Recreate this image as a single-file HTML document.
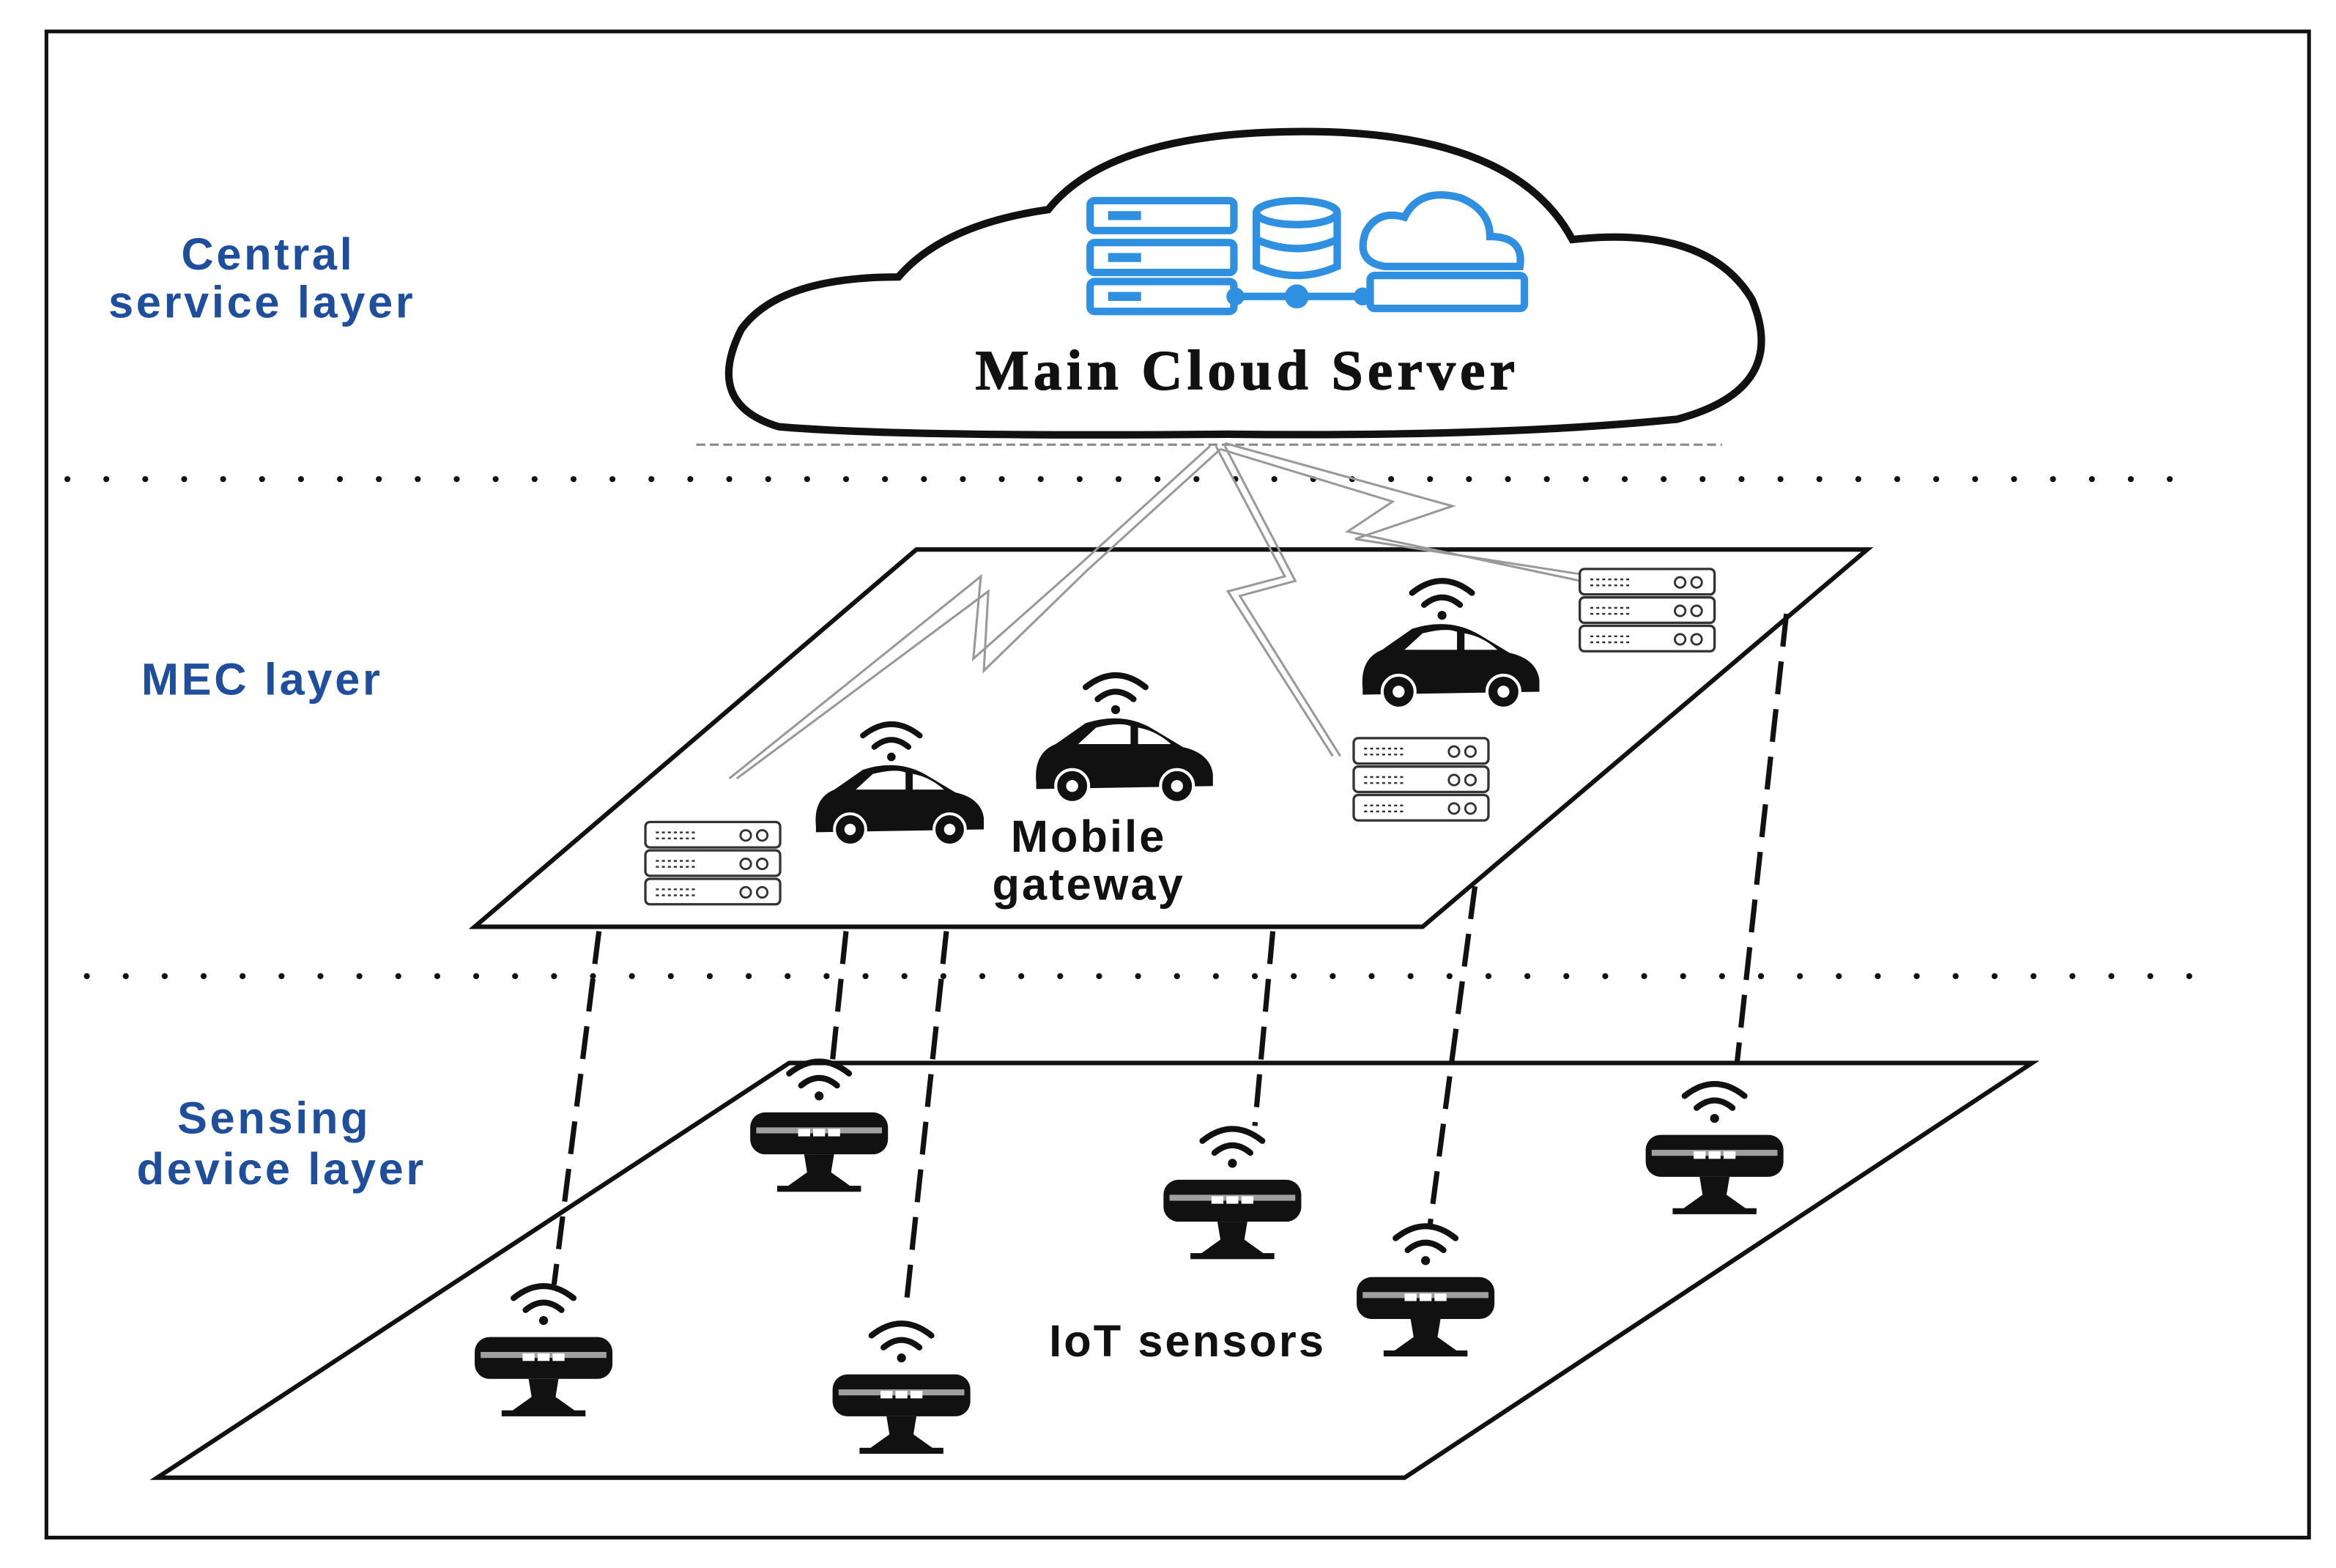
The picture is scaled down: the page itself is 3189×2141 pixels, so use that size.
<!DOCTYPE html>
<html><head><meta charset="utf-8"><style>
html,body{margin:0;padding:0;background:#fff;}
svg{display:block;}
</style></head><body>
<svg width="3189" height="2141" viewBox="0 0 1560 1047.3" xmlns="http://www.w3.org/2000/svg" preserveAspectRatio="none">
<defs>
<g id="srv">
  <g fill="#fff" stroke="#333" stroke-width="1.6">
    <rect x="-45" y="-27" width="90" height="17" rx="3"/>
    <rect x="-45" y="-8" width="90" height="17" rx="3"/>
    <rect x="-45" y="11" width="90" height="17" rx="3"/>
  </g>
  <g stroke="#333" stroke-width="1.2" stroke-dasharray="2 2">
    <line x1="-38" y1="-20" x2="-10" y2="-20"/><line x1="-38" y1="-16" x2="-10" y2="-16"/>
    <line x1="-38" y1="-1" x2="-10" y2="-1"/><line x1="-38" y1="3" x2="-10" y2="3"/>
    <line x1="-38" y1="18" x2="-10" y2="18"/><line x1="-38" y1="22" x2="-10" y2="22"/>
  </g>
  <g fill="none" stroke="#333" stroke-width="1.4">
    <circle cx="22" cy="-18" r="3.5"/><circle cx="33" cy="-18" r="3.5"/>
    <circle cx="22" cy="1" r="3.5"/><circle cx="33" cy="1" r="3.5"/>
    <circle cx="22" cy="20" r="3.5"/><circle cx="33" cy="20" r="3.5"/>
  </g>
</g>
<g id="wifi" fill="none" stroke="#111" stroke-width="4" stroke-linecap="round">
  <path d="M-20,-8 Q0,-24 20,-8"/><path d="M-12,0 Q0,-10 12,0"/><circle cx="0" cy="7" r="3" fill="#111" stroke="none"/>
</g>
<g id="car">
  <use href="#wifi" transform="translate(-5,-38)"/>
  <path d="M-58,18 Q-60,-2 -45,-8 L-25,-22 Q0,-30 20,-18 L40,-6 Q58,-2 60,12 L60,20 L-58,22 Z" fill="#111"/>
  <path d="M-30,-8 L-18,-19 Q-2,-23 5,-20 L5,-8 Z M10,-8 L10,-19 Q22,-17 32,-8 Z" fill="#fff"/>
  <circle cx="-34" cy="20" r="11" fill="#111" stroke="#fff" stroke-width="2"/><circle cx="-34" cy="20" r="4" fill="#fff"/>
  <circle cx="36" cy="20" r="11" fill="#111" stroke="#fff" stroke-width="2"/><circle cx="36" cy="20" r="4" fill="#fff"/>
</g>
<g id="sen">
  <use href="#wifi" transform="translate(0,-30)"/>
  <rect x="-46" y="-12" width="92" height="28" rx="10" fill="#111"/>
  <rect x="-42" y="-2" width="84" height="4" fill="#fff" opacity="0.6"/>
  <rect x="-14" y="-1" width="8" height="5" fill="#fff"/><rect x="-4" y="-1" width="8" height="5" fill="#fff"/><rect x="6" y="-1" width="8" height="5" fill="#fff"/>
  <path d="M-10,16 L10,16 L8,28 L22,38 L-22,38 L-8,28 Z" fill="#111"/>
  <rect x="-28" y="37" width="56" height="4" fill="#111"/>
</g>
</defs>
<rect x="31" y="21" width="1511" height="1006" fill="none" stroke="#111" stroke-width="2.5"/>
<path d="M520,285 Q470,270 495,220 Q520,185 600,185 Q630,150 700,140 Q740,90 860,88 Q1010,85 1050,160 Q1140,150 1170,200 Q1195,260 1120,280 Q1000,292 820,290 Q600,292 520,285 Z" fill="#fff" stroke="#111" stroke-width="5"/>
<g fill="none" stroke="#2f8fe0" stroke-width="5">
  <rect x="728" y="134" width="96" height="20" rx="3"/><rect x="728" y="162" width="96" height="20" rx="3"/><rect x="728" y="188" width="96" height="20" rx="3"/>
  <ellipse cx="866" cy="142" rx="27" ry="8"/><path d="M839,142 V178 Q866,190 893,178 V142 M839,160 Q866,172 893,160"/>
  <path d="M925,178 Q905,175 912,155 Q920,140 938,145 Q948,125 975,132 Q995,140 995,158 Q1018,158 1015,178 Z"/>
  <rect x="915" y="184" width="103" height="22" rx="3"/>
  <path d="M825,198 H915"/>
</g>
<g fill="#2f8fe0"><circle cx="825" cy="198" r="6"/><circle cx="866" cy="198" r="8"/><circle cx="910" cy="198" r="6"/>
<rect x="740" y="141" width="22" height="6"/><rect x="740" y="169" width="22" height="6"/><rect x="740" y="195" width="22" height="6"/></g>
<text x="833" y="260" font-family="Liberation Serif, serif" font-weight="bold" font-size="38" letter-spacing="3" text-anchor="middle" fill="#111" stroke="#111" stroke-width="0.6">Main Cloud Server</text>
<line x1="465" y1="297" x2="1150" y2="297" stroke="#888" stroke-width="1.5" stroke-dasharray="6 3"/>
<line x1="45" y1="320" x2="1462" y2="320" stroke="#111" stroke-width="4" stroke-dasharray="0 26" stroke-linecap="round"/>
<line x1="58" y1="652" x2="1475" y2="652" stroke="#111" stroke-width="4" stroke-dasharray="0 26" stroke-linecap="round"/>
<polygon points="612,367 1247,367 950,619 317,619" fill="#fff" stroke="#111" stroke-width="3"/>
<polygon points="527,710 1357,710 938,987 105,987" fill="#fff" stroke="#111" stroke-width="3"/>
<g fill="none" stroke="#999" stroke-width="1.5">
  <polyline points="808,298 720,378 650,440 655,385 487,520"/>
  <polyline points="815,300 727,380 657,448 660,395 492,520"/>
  <polyline points="812,298 858,385 820,395 890,505"/>
  <polyline points="818,298 865,388 828,398 895,505"/>
  <polyline points="815,300 930,335 900,355 1065,390"/>
  <polyline points="818,296 970,338 905,360 1065,385"/>
</g>
<g stroke="#111" stroke-width="3.5" stroke-dasharray="22 10">
  <line x1="400" y1="622" x2="370" y2="858"/>
  <line x1="565" y1="622" x2="556" y2="708"/>
  <line x1="632" y1="622" x2="605" y2="873"/>
  <line x1="850" y1="622" x2="838" y2="752"/>
  <line x1="985" y1="592" x2="955" y2="818"/>
  <line x1="1193" y1="410" x2="1160" y2="710"/>
</g>
<use href="#srv" transform="translate(476,576)"/>
<use href="#srv" transform="translate(949,520)"/>
<use href="#srv" transform="translate(1100,407)"/>
<use href="#car" transform="translate(600,535) scale(0.95)"/>
<use href="#car" transform="translate(750,505)"/>
<use href="#car" transform="translate(968,442)"/>
<use href="#sen" transform="translate(363,905)"/>
<use href="#sen" transform="translate(547,755)"/>
<use href="#sen" transform="translate(602,930)"/>
<use href="#sen" transform="translate(823,800)"/>
<use href="#sen" transform="translate(952,865)"/>
<use href="#sen" transform="translate(1145,770)"/>
<g font-family="Liberation Sans, sans-serif" font-weight="bold" fill="#1f4e9c" text-anchor="middle" font-size="30" letter-spacing="1.8">
  <text x="179" y="180">Central</text><text x="175" y="212">service layer</text>
  <text x="175" y="464">MEC layer</text>
  <text x="183" y="757">Sensing</text><text x="188" y="791">device layer</text>
</g>
<g font-family="Liberation Sans, sans-serif" font-weight="bold" fill="#111" text-anchor="middle" font-size="30" letter-spacing="1.5">
  <text x="727" y="569">Mobile</text><text x="727" y="601">gateway</text>
  <text x="793" y="906">IoT sensors</text>
</g>
</svg>
</body></html>
